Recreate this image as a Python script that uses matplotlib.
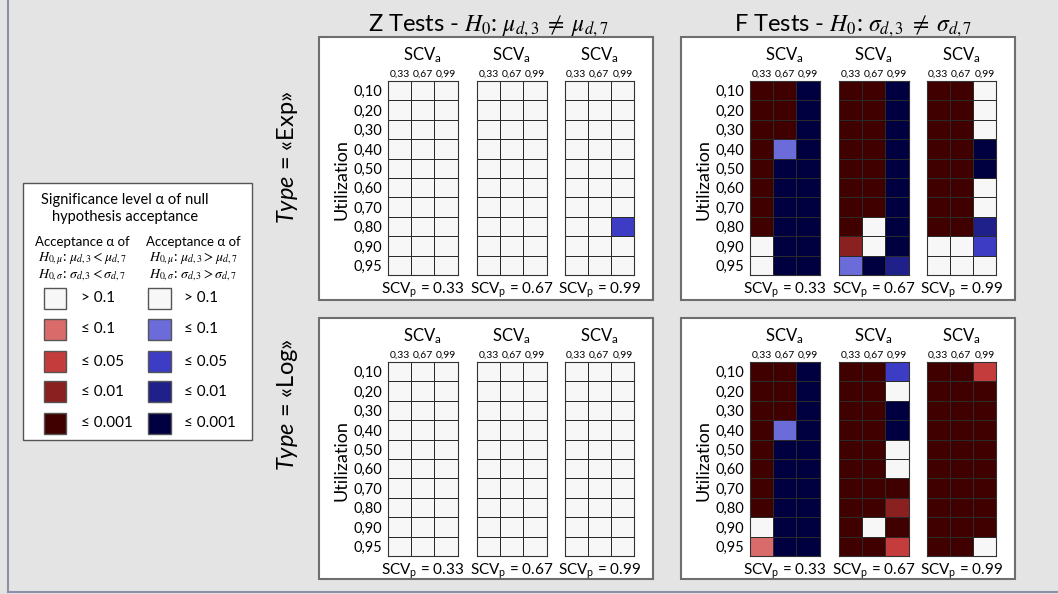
import numpy as np
import matplotlib
matplotlib.use('Agg')
import matplotlib.pyplot as plt
from matplotlib.colors import ListedColormap, BoundaryNorm
from matplotlib.patches import Rectangle

plt.rcParams['font.family'] = ['Lato', 'DejaVu Sans']
plt.rcParams['mathtext.fontset'] = 'custom'
plt.rcParams['mathtext.rm'] = 'Lato'
plt.rcParams['mathtext.it'] = 'Lato:italic'

W, H = 1058, 594

utilization = ['0,10', '0,20', '0,30', '0,40', '0,50', '0,60', '0,70', '0,80', '0,90', '0,95']
scv_a = ['0,33', '0,67', '0,99']
scv_p = ['0.33', '0.67', '0.99']
level_labels = ['> 0.1', '≤ 0.1', '≤ 0.05', '≤ 0.01', '≤ 0.001']
colors_lt = ['#f7f7f7', '#d96b6b', '#c43c3c', '#8b2020', '#400000']
colors_gt = ['#f7f7f7', '#6b6bd9', '#3c3cc4', '#20208b', '#000040']

# level codes: 0 -> > 0.1 ; -k -> "<" hypothesis accepted at level k ; +k -> ">" hypothesis
z_exp_033 = [[0, 0, 0]] * 10
z_exp_067 = [[0, 0, 0]] * 10
z_exp_099 = [[0, 0, 0], [0, 0, 0], [0, 0, 0], [0, 0, 0], [0, 0, 0],
             [0, 0, 0], [0, 0, 0], [0, 0, 2], [0, 0, 0], [0, 0, 0]]
z_log_033 = [[0, 0, 0]] * 10
z_log_067 = [[0, 0, 0]] * 10
z_log_099 = [[0, 0, 0]] * 10

f_exp_033 = [[-4, -4, 4], [-4, -4, 4], [-4, -4, 4], [-4, 1, 4], [-4, 4, 4],
             [-4, 4, 4], [-4, 4, 4], [-4, 4, 4], [0, 4, 4], [0, 4, 4]]
f_exp_067 = [[-4, -4, 4], [-4, -4, 4], [-4, -4, 4], [-4, -4, 4], [-4, -4, 4],
             [-4, -4, 4], [-4, -4, 4], [-4, 0, 4], [-3, 0, 4], [1, 4, 3]]
f_exp_099 = [[-4, -4, 0], [-4, -4, 0], [-4, -4, 0], [-4, -4, 4], [-4, -4, 4],
             [-4, -4, 0], [-4, -4, 0], [-4, -4, 3], [0, 0, 2], [0, 0, 0]]
f_log_033 = [[-4, -4, 4], [-4, -4, 4], [-4, -4, 4], [-4, 1, 4], [-4, 4, 4],
             [-4, 4, 4], [-4, 4, 4], [-4, 4, 4], [0, 4, 4], [-1, 4, 4]]
f_log_067 = [[-4, -4, 2], [-4, -4, 0], [-4, -4, 4], [-4, -4, 4], [-4, -4, 0],
             [-4, -4, 0], [-4, -4, -4], [-4, -4, -3], [-4, 0, -4], [-4, -4, -2]]
f_log_099 = [[-4, -4, -2], [-4, -4, -4], [-4, -4, -4], [-4, -4, -4], [-4, -4, -4],
             [-4, -4, -4], [-4, -4, -4], [-4, -4, -4], [-4, -4, -4], [-4, -4, 0]]

panels = {
    ('Z', 'Exp'): [z_exp_033, z_exp_067, z_exp_099],
    ('Z', 'Log'): [z_log_033, z_log_067, z_log_099],
    ('F', 'Exp'): [f_exp_033, f_exp_067, f_exp_099],
    ('F', 'Log'): [f_log_033, f_log_067, f_log_099],
}

cmap = ListedColormap(colors_lt[:0:-1] + colors_gt)
norm = BoundaryNorm(np.arange(-4.5, 5.5, 1), cmap.N)


def fig_rect(x0, y0, x1, y1):
    return [x0 / W, 1 - y1 / H, (x1 - x0) / W, (y1 - y0) / H]


fig = plt.figure(figsize=(W / 100, H / 100), dpi=100)
bg = fig.add_axes([0, 0, 1, 1])
bg.set_xlim(0, W)
bg.set_ylim(H, 0)
bg.axis('off')
bg.add_patch(Rectangle((0, 0), W, H, facecolor='#e4e4e4', edgecolor='none'))
bg.plot([7.5, 7.5], [0, 592], color='#8c90a8', lw=1.5)
bg.plot([7.5, W], [592, 592], color='#8c90a8', lw=1.5)

test_dx = {'Z': 0, 'F': 362}
box_y = {'Exp': (37, 300), 'Log': (318, 579)}
grid_y = {'Exp': (81, 275), 'Log': (362, 556)}
grid_x0 = [388, 477, 564.5]
grid_w = 69.5

for (test, typ), mats in panels.items():
    dx = test_dx[test]
    by0, by1 = box_y[typ]
    bg.add_patch(Rectangle((319 + dx, by0), 334, by1 - by0, facecolor='white',
                           edgecolor='#6e6e6e', lw=1.5))
    gy0, gy1 = grid_y[typ]
    bg.text(342 + dx, (gy0 + gy1) / 2 + 2, 'Utilization', rotation=90,
            ha='center', va='center', fontsize=13)
    for p, mat in enumerate(mats):
        gx0 = grid_x0[p] + dx
        ax = fig.add_axes(fig_rect(gx0, gy0, gx0 + grid_w, gy1))
        ax.pcolormesh(np.array(mat), cmap=cmap, norm=norm,
                      edgecolors='#2a2a2a', linewidth=0.7)
        ax.set_xlim(0, 3)
        ax.set_ylim(10, 0)
        ax.xaxis.tick_top()
        ax.set_xticks(np.arange(3) + 0.5)
        ax.set_xticklabels(scv_a)
        ax.set_yticks(np.arange(10) + 0.5)
        ax.set_yticklabels(utilization if p == 0 else [])
        ax.tick_params(axis='x', length=0, pad=1.5, labelsize=7.5)
        ax.tick_params(axis='y', length=0, pad=4, labelsize=10.5)
        for s in ax.spines.values():
            s.set_color('#333333')
            s.set_linewidth(0.8)
        cx = gx0 + grid_w / 2
        bg.text(cx, gy0 - 21, 'SCV$_\\mathregular{a}$', ha='center',
                va='baseline', fontsize=12)
        bg.text(cx, gy1 + 19, 'SCV$_\\mathregular{p}$ = ' + scv_p[p],
                ha='center', va='baseline', fontsize=11)

bg.text(488, 31, 'Z Tests - $H_0$: $\\mu_{d,3} \\;\\neq\\; \\mu_{d,7}$', ha='center',
        va='baseline', fontsize=17, math_fontfamily='stix')
bg.text(853, 31, 'F Tests - $H_0$: $\\sigma_{d,3} \\;\\neq\\; \\sigma_{d,7}$', ha='center',
        va='baseline', fontsize=17, math_fontfamily='stix')
bg.text(288, 157, '$Type$ = «Exp»', rotation=90, ha='center', va='center', fontsize=17)
bg.text(288, 405, '$Type$ = «Log»', rotation=90, ha='center', va='center', fontsize=17)

# legend
bg.add_patch(Rectangle((23, 183), 229, 257, facecolor='white', edgecolor='#555555', lw=1))
bg.text(125, 200, 'Significance level α of null', ha='center', va='center', fontsize=10.5)
bg.text(125, 217, 'hypothesis acceptance', ha='center', va='center', fontsize=10.5)
bg.text(82, 242, 'Acceptance α of', ha='center', va='center', fontsize=9.5)
bg.text(193, 242, 'Acceptance α of', ha='center', va='center', fontsize=9.5)
bg.text(82, 259, '$H_{0,\\mu}$: $\\mu_{d,3} < \\mu_{d,7}$', ha='center', va='center',
        fontsize=10, math_fontfamily='stix')
bg.text(82, 275, '$H_{0,\\sigma}$: $\\sigma_{d,3} < \\sigma_{d,7}$', ha='center', va='center',
        fontsize=10, math_fontfamily='stix')
bg.text(193, 259, '$H_{0,\\mu}$: $\\mu_{d,3} > \\mu_{d,7}$', ha='center', va='center',
        fontsize=10, math_fontfamily='stix')
bg.text(193, 275, '$H_{0,\\sigma}$: $\\sigma_{d,3} > \\sigma_{d,7}$', ha='center', va='center',
        fontsize=10, math_fontfamily='stix')
row_c = [298, 329, 361.5, 391.5, 423]
for i, lab in enumerate(level_labels):
    bg.add_patch(Rectangle((43.5, row_c[i] - 10.5), 22.5, 21, facecolor=colors_lt[i],
                           edgecolor='#555555', lw=1))
    bg.add_patch(Rectangle((148, row_c[i] - 10.5), 22.5, 21, facecolor=colors_gt[i],
                           edgecolor='#555555', lw=1))
    bg.text(81, row_c[i], lab, ha='left', va='center', fontsize=11)
    bg.text(184, row_c[i], lab, ha='left', va='center', fontsize=11)

fig.savefig('out.png', dpi=100)
